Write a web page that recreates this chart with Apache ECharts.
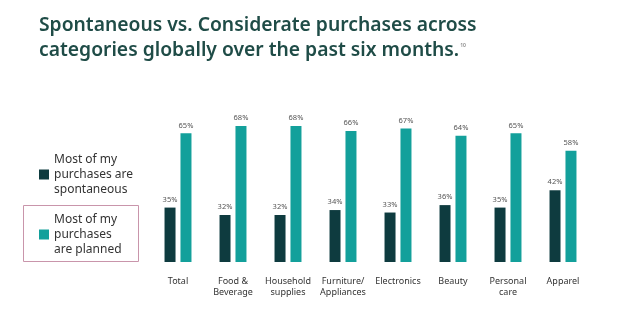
<!DOCTYPE html>
<html>
<head>
<meta charset="utf-8">
<style>html,body{margin:0;padding:0;background:#fff}#c{width:627px;height:323px}</style>
<script src="https://cdn.jsdelivr.net/npm/echarts@6/dist/echarts.min.js"></script>
</head>
<body>
<div id="c"></div>
<script>
const categories = ['Total', 'Food &\nBeverage', 'Household\nsupplies', 'Furniture/\nAppliances', 'Electronics', 'Beauty', 'Personal\ncare', 'Apparel'];
const spontaneous = [35, 32, 32, 34, 33, 36, 35, 42];
const planned = [65, 68, 68, 66, 67, 64, 65, 58];
const seriesNames = ['Most of my\npurchases are\nspontaneous', 'Most of my\npurchases\nare planned'];

const chart = echarts.init(document.getElementById('c'), null, {renderer: 'canvas'});
const font = '"Noto Sans", "Open Sans", sans-serif';
const labelCfg = {show: true, position: 'top', distance: 4, fontSize: 7.5, color: '#555', fontFamily: font, formatter: '{c}%'};
chart.setOption({
  animation: false,
  textStyle: {fontFamily: font},
  title: {
    left: 34, top: 8,
    text: 'Spontaneous vs. Considerate purchases across\ncategories globally over the past six months.{sup|10}',
    textStyle: {
      fontSize: 19.3, fontWeight: 600, color: '#1f4c47', fontFamily: font, lineHeight: 25,
      rich: {sup: {fontSize: 5, color: '#888', padding: [0, 0, 9, 1]}}
    }
  },
  legend: {
    orient: 'vertical', left: 34, top: 147,
    itemWidth: 10, itemHeight: 10, itemGap: 15, icon: 'rect',
    textStyle: {fontSize: 12, lineHeight: 15, color: '#333', fontFamily: font},
    data: seriesNames
  },
  graphic: [{
    type: 'rect', shape: {x: 23.5, y: 205.5, width: 115, height: 56},
    style: {fill: 'none', stroke: '#c995ab', lineWidth: 1}, silent: true
  }],
  grid: {left: 150.5, right: 36.5, top: 121, bottom: 61},
  xAxis: {
    type: 'category', data: categories,
    axisLine: {show: false}, axisTick: {show: false},
    axisLabel: {fontSize: 9, lineHeight: 11, color: '#333', margin: 14, interval: 0, fontFamily: font}
  },
  yAxis: {type: 'value', min: 13, max: 70, show: false, splitLine: {show: false}},
  series: [
    {name: seriesNames[0], type: 'bar', data: spontaneous, barWidth: 11, barGap: '45%', itemStyle: {color: '#0e3b3f'}, label: labelCfg},
    {name: seriesNames[1], type: 'bar', data: planned, barWidth: 11, barGap: '45%', itemStyle: {color: '#13a09b'}, label: labelCfg}
  ]
});
</script>
</body>
</html>
